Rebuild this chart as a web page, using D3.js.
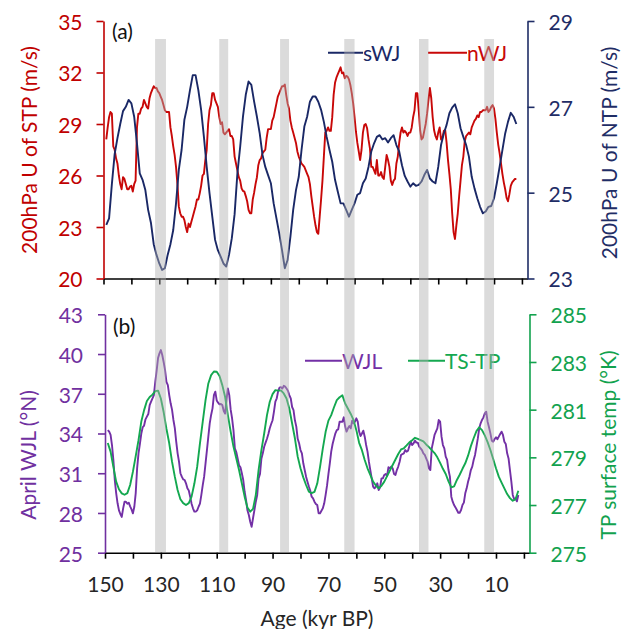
<!DOCTYPE html>
<html>
<head>
<meta charset="utf-8">
<script src="https://cdn.jsdelivr.net/npm/d3@7"></script>
<style>
  html, body { margin: 0; padding: 0; background: #fff; }
  svg { display: block; font-family: Lato, "Open Sans", sans-serif; }
</style>
</head>
<body>
<svg id="chart" width="628" height="629"></svg>
<script>
// ---- data (kyr BP, oldest first) ----
// yearly-kyr ages for the smoother series
const ages = [149,148,147,146,145,144,143,142,141,140,139,138,137,136,135,134,133,132,131,130,
  129,128,127,126,125,124,123,122,121,120,119,118,117,116,115,114,113,112,111,110,
  109,108,107,106,105,104,103,102,101,100,99,98,97,96,95,94,93,92,91,90,
  89,88,87,86,85,84,83,82,81,80,79,78,77,76,75,74,73,72,71,70,
  69,68,67,66,65,64,63,62,61,60,59,58,57,56,55,54,53,52,51,50,
  49,48,47,46,45,44,43,42,41,40,39,38,37,36,35,34,33,32,31,30,
  29,28,27,26,25,24,23,22,21,20,19,18,17,16,15,14,13,12,11,10,
  9,8,7,6,5,4,3,2];

// half-kyr ages for the noisier series
const agesHalf = [
  149,148.5,148,147.5,147,146.5,146,145.5,145,144.5,
  144,143.5,143,142.5,142,141.5,141,140.5,140,139.5,
  139,138.5,138,137.5,137,136.5,136,135.5,135,134.5,
  134,133.5,133,132.5,132,131.5,131,130.5,130,129.5,
  129,128.5,128,127.5,127,126.5,126,125.5,125,124.5,
  124,123.5,123,122.5,122,121.5,121,120.5,120,119.5,
  119,118.5,118,117.5,117,116.5,116,115.5,115,114.5,
  114,113.5,113,112.5,112,111.5,111,110.5,110,109.5,
  109,108.5,108,107.5,107,106.5,106,105.5,105,104.5,
  104,103.5,103,102.5,102,101.5,101,100.5,100,99.5,
  99,98.5,98,97.5,97,96.5,96,95.5,95,94.5,
  94,93.5,93,92.5,92,91.5,91,90.5,90,89.5,
  89,88.5,88,87.5,87,86.5,86,85.5,85,84.5,
  84,83.5,83,82.5,82,81.5,81,80.5,80,79.5,
  79,78.5,78,77.5,77,76.5,76,75.5,75,74.5,
  74,73.5,73,72.5,72,71.5,71,70.5,70,69.5,
  69,68.5,68,67.5,67,66.5,66,65.5,65,64.5,
  64,63.5,63,62.5,62,61.5,61,60.5,60,59.5,
  59,58.5,58,57.5,57,56.5,56,55.5,55,54.5,
  54,53.5,53,52.5,52,51.5,51,50.5,50,49.5,
  49,48.5,48,47.5,47,46.5,46,45.5,45,44.5,
  44,43.5,43,42.5,42,41.5,41,40.5,40,39.5,
  39,38.5,38,37.5,37,36.5,36,35.5,35,34.5,
  34,33.5,33,32.5,32,31.5,31,30.5,30,29.5,
  29,28.5,28,27.5,27,26.5,26,25.5,25,24.5,
  24,23.5,23,22.5,22,21.5,21,20.5,20,19.5,
  19,18.5,18,17.5,17,16.5,16,15.5,15,14.5,
  14,13.5,13,12.5,12,11.5,11,10.5,10,9.5,
  9,8.5,8,7.5,7,6.5,6,5.5,5,4.5,
  4,3.5,3,2.5,2];

// 200 hPa zonal wind, northern jet over the subtropical plateau (m/s), on agesHalf
const nWJ = [
  28.1,28.8,29.4,29.7,29.6,27.7,27.5,27.0,26.7,26.0,
  25.5,25.2,25.9,25.8,25.5,25.2,25.2,25.35,25.4,25.06,
  25.5,25.7,28.8,29.6,29.6,29.9,30.0,30.4,30.2,30.0,
  29.9,30.5,30.8,31.0,31.2,31.1,31.1,30.9,30.8,30.6,
  30.4,30.1,29.8,29.7,29.7,29.7,28.8,28.3,27.7,27.2,
  26.5,25.5,24.2,23.8,23.6,23.6,23.4,23.0,22.7,23.2,
  23.0,23.3,23.6,23.9,24.2,24.6,24.6,24.96,25.4,26.0,
  26.1,26.9,27.5,29.0,29.8,30.1,30.8,30.8,30.4,30.2,
  30.0,29.4,29.0,29.1,28.5,28.4,28.5,28.6,28.7,28.3,
  28.3,28.1,27.1,26.7,26.3,25.9,25.7,25.25,25.1,25.06,
  24.8,24.5,24.0,23.8,23.8,24.6,25.0,25.5,25.9,26.6,
  26.9,27.0,27.3,27.4,27.5,28.2,28.7,28.7,28.7,29.2,
  29.4,29.8,30.2,30.6,30.8,31.0,31.2,31.2,31.3,30.7,
  30.2,29.9,29.2,28.8,28.5,28.2,27.9,27.4,27.1,26.9,
  26.7,26.6,26.5,26.3,26.1,25.9,25.5,24.8,24.2,23.6,
  23.1,22.7,22.6,23.6,24.6,25.7,27.1,28.5,28.6,28.8,
  28.6,28.6,29.4,30.7,31.4,31.7,31.9,32.1,32.3,31.95,
  32.0,31.66,31.8,31.76,31.6,31.27,30.8,30.2,29.4,28.55,
  27.9,27.4,26.9,27.5,28.5,28.94,29.0,28.75,28.1,27.6,
  26.5,26.5,26.3,26.1,26.9,26.0,26.0,26.2,25.9,25.8,
  26.5,27.2,26.9,26.5,25.7,25.45,25.7,25.8,26.7,27.1,
  27.9,28.5,28.8,28.5,28.6,28.5,28.3,28.5,28.5,28.8,
  29.4,29.8,30.8,30.8,29.8,28.65,28.1,28.2,28.6,29.0,
  29.6,30.4,31.1,30.5,29.4,28.65,28.3,28.1,28.5,28.8,
  28.1,28.2,28.6,28.65,27.9,26.9,26.1,25.2,23.8,22.7,
  22.3,23.1,23.8,24.8,25.7,26.6,27.1,28.0,28.3,28.4,
  28.5,28.4,28.8,29.0,29.2,29.3,29.5,29.4,29.7,29.7,
  29.8,29.8,29.8,30.0,29.7,29.8,30.0,30.1,29.9,29.3,
  28.5,27.8,27.3,26.7,26.1,25.6,25.2,24.7,24.5,24.9,
  25.4,25.6,25.7,25.8,25.8];

// 200 hPa zonal wind, southern jet north of the plateau (m/s), on ages
const sWJ = [24.25,24.4,25.2,25.9,26.27,26.6,26.9,27.0,27.16,27.08,26.77,26.15,25.45,25.3,25.06,24.6,24.3,23.8,23.55,23.35,
  23.2,23.24,23.55,23.8,24.13,24.75,25.53,26.0,26.7,27.0,27.39,27.74,27.74,27.39,26.93,26.3,25.6,24.99,24.44,23.9,
  23.66,23.51,23.35,23.28,23.55,23.94,24.5,25.45,26.07,26.77,27.28,27.59,27.51,27.12,26.77,26.38,25.88,25.6,25.41,25.22,
  24.75,24.4,24.05,23.66,23.24,23.43,23.97,24.6,25.06,25.37,26.0,26.54,26.77,27.12,27.24,27.24,27.12,26.93,26.65,26.3,
  26.0,25.72,25.3,25.02,24.75,24.75,24.6,24.44,24.6,24.75,24.95,24.99,25.22,25.33,25.6,25.96,26.15,26.3,26.34,26.24,
  26.27,26.17,26.27,26.34,26.11,25.96,25.64,25.39,25.26,25.14,25.22,25.16,25.18,25.26,25.41,25.53,25.33,25.26,25.22,25.6,
  26.11,26.38,26.58,26.85,26.98,27.06,26.85,26.5,26.3,26.11,25.84,25.37,25.1,24.87,24.67,24.52,24.56,24.67,24.69,24.87,
  25.22,25.6,25.99,26.38,26.65,26.86,26.77,26.6];

// April westerly jet latitude (°N), on agesHalf
const WJL = [
  34.26,34.14,33.9,33.13,32.0,30.49,29.5,28.73,28.2,27.92,
  27.7,28.35,28.85,28.85,28.7,28.78,28.5,28.27,27.97,28.47,
  29.5,31.37,32.5,33.21,34.0,34.47,34.6,35.07,35.27,35.47,
  36.15,36.4,36.66,36.9,37.9,38.74,39.7,40.05,40.3,39.93,
  39.4,38.8,37.9,37.66,36.9,36.28,35.8,35.02,34.4,33.38,
  32.5,31.87,31.0,30.74,30.54,30.49,30.24,29.86,29.7,29.23,
  28.7,28.35,28.1,28.1,28.2,28.47,28.7,29.36,30.1,30.74,
  31.75,32.75,33.76,34.77,35.4,35.9,36.9,37.16,36.5,36.33,
  36.2,36.23,36.15,35.72,35.5,36.53,37.4,36.9,35.8,35.15,
  34.26,32.88,32.6,32.12,31.6,31.45,31.0,30.49,29.6,28.98,
  28.2,27.85,27.34,26.96,27.6,28.22,28.85,29.36,30.6,30.94,
  32.1,32.5,33.0,33.31,33.6,33.96,34.4,34.72,35.0,35.65,
  36.4,36.66,37.2,37.46,37.5,37.39,37.6,37.54,37.4,37.23,
  36.9,36.66,36.0,35.77,35.0,34.52,33.6,33.26,32.75,32.5,
  31.75,31.24,30.74,30.36,30.0,29.68,29.23,29.1,28.85,28.68,
  28.6,27.97,27.97,28.17,28.35,28.73,29.36,30.06,30.94,31.75,
  32.63,33.21,33.63,34.01,34.26,34.31,34.89,34.89,34.89,35.22,
  34.52,34.14,34.39,34.57,34.39,34.97,34.77,34.89,35.15,34.89,
  34.14,33.81,34.0,34.21,33.76,33.13,32.63,31.87,31.24,30.61,
  29.99,29.86,29.99,30.24,29.73,29.93,30.61,30.61,30.87,30.94,
  30.79,31.45,31.37,31.5,31.37,30.94,30.87,31.24,31.5,31.87,
  32.38,32.45,32.5,32.75,32.63,32.7,33.06,33.38,33.13,33.26,
  33.46,33.31,33.31,33.0,32.88,32.75,32.5,32.38,32.13,31.87,
  31.37,31.24,32.88,33.38,33.89,34.14,34.39,35.02,34.89,33.76,
  33.13,32.88,32.25,32.0,31.24,30.74,29.23,28.85,28.6,28.42,
  28.22,28.02,28.02,28.22,28.6,28.78,29.48,29.86,30.36,30.74,
  31.24,31.5,32.0,32.38,33.0,33.63,34.39,34.77,35.02,35.22,
  35.52,35.65,34.89,34.47,34.01,33.46,33.38,33.58,33.71,33.56,
  33.76,33.96,34.14,33.89,33.38,33.21,32.5,32.12,31.24,30.36,
  29.36,29.03,29.1,28.88,29.36];

// Tibetan Plateau surface temperature (°K), on ages
const TSTP = [279.6,279.24,278.6,277.98,277.66,277.49,277.43,277.5,277.84,278.4,279.05,279.72,280.5,280.98,281.36,281.53,281.63,281.78,281.8,281.47,
  280.9,280.2,279.59,278.82,278.19,277.63,277.24,277.08,277.0,277.08,277.35,277.9,278.6,279.59,280.5,281.4,282.1,282.45,282.6,282.59,
  282.41,282.03,281.54,280.77,280.08,279.45,278.96,278.47,277.91,277.35,276.9,276.72,276.84,277.42,278.47,279.3,280.0,280.77,281.33,281.65,
  281.82,281.8,281.81,281.68,281.47,281.05,280.42,279.8,279.03,278.54,278.16,277.84,277.56,277.5,277.55,277.9,278.6,279.38,280.07,280.54,
  280.77,281.1,281.4,281.52,281.6,281.26,281.04,280.82,280.56,280.14,279.61,279.3,278.89,278.54,278.26,277.98,277.82,277.7,277.81,277.98,
  278.21,278.44,278.68,278.91,279.14,279.33,279.38,279.5,279.63,279.72,279.82,279.77,279.72,279.67,279.54,279.43,279.3,279.18,279.0,278.77,
  278.52,278.3,277.99,277.74,277.78,278.05,278.27,278.52,278.75,279.07,279.47,279.8,280.1,280.26,280.14,279.92,279.64,279.31,278.93,278.54,
  278.19,277.94,277.7,277.46,277.29,277.18,277.24,277.6];

// shaded intervals (kyr BP)
const bandFrom = [131.5, 108.5, 86.7, 63.7, 36.9, 13.5];
const bandTo   = [127.6, 105.3, 83.5, 60.0, 33.5, 10.0];

// tick values
const ageTicks = [150,140,130,120,110,100,90,80,70,60,50,40,30,20,10,0];
const ageTickLabels = [150,130,110,90,70,50,30,10];
const stpTicks = [20,23,26,29,32,35];
const ntpTicks = [23,25,27,29];
const wjlTicks = [25,28,31,34,37,40,43];
const tsTicks = [275,277,279,281,283,285];

// ---- styling ----
const C = {
  red: "#c80808", redText: "#c00000",
  navy: "#1a2866", navyText: "#1f2d66",
  purple: "#7330a6", purpleText: "#7030a0",
  green: "#14a850", greenText: "#12a24e",
  ink: "#262626"
};
const FS = 21;
const LW = 1.9;

const svg = d3.select("#chart");

const pA = { left: 103.5, right: 527.5, top: 21, bottom: 278.5 };
const pB = { left: 105, right: 529.5, top: 314.3, bottom: 552.7 };

const xA = d3.scaleLinear().domain([150, -2]).range([pA.left, pA.right]);
const xB = d3.scaleLinear().domain([150, -2]).range([pB.left, pB.right]);
const yN = d3.scaleLinear().domain([20, 35]).range([pA.bottom, pA.top]);
const yS = d3.scaleLinear().domain([23, 29]).range([pA.bottom, pA.top]);
const yW = d3.scaleLinear().domain([25, 43]).range([pB.bottom, pB.top]);
const yT = d3.scaleLinear().domain([275, 285]).range([pB.bottom, pB.top]);
const intFmt = d3.format("d");

function styleAxis(g, color, textColor) {
  g.select(".domain").attr("stroke", color).attr("stroke-width", 1.6);
  g.selectAll(".tick line").attr("stroke", color).attr("stroke-width", 1.6);
  g.selectAll(".tick text").attr("fill", textColor).attr("font-size", FS)
    .attr("font-family", "Lato, 'Open Sans', sans-serif");
}

// ---- panel (a) axes ----
svg.append("g").attr("transform", `translate(0,${pA.bottom})`)
  .call(d3.axisBottom(xA).tickValues(ageTicks).tickSize(6).tickSizeOuter(0).tickFormat(() => ""))
  .call(g => styleAxis(g, "#000", C.ink));

svg.append("g").attr("transform", `translate(${pA.left},0)`)
  .call(d3.axisLeft(yN).tickValues(stpTicks).tickSize(7).tickSizeOuter(0).tickPadding(14).tickFormat(intFmt))
  .call(g => styleAxis(g, C.redText, C.redText))
  .call(g => g.selectAll(".tick text").attr("dy", "0.4em"));

svg.append("g").attr("transform", `translate(${pA.right},0)`)
  .call(d3.axisRight(yS).tickValues(ntpTicks).tickSize(7).tickSizeOuter(0).tickPadding(14).tickFormat(intFmt))
  .call(g => styleAxis(g, C.navyText, C.navyText))
  .call(g => g.selectAll(".tick text").attr("dy", "0.4em"));

// ---- panel (b) axes ----
svg.append("g").attr("transform", `translate(0,${pB.bottom})`)
  .call(d3.axisBottom(xB).tickValues(ageTicks).tickSize(6).tickSizeOuter(0).tickPadding(18)
    .tickFormat(d => ageTickLabels.includes(d) ? d : ""))
  .call(g => styleAxis(g, "#000", C.ink));

svg.append("g").attr("transform", `translate(${pB.left},0)`)
  .call(d3.axisLeft(yW).tickValues(wjlTicks).tickSize(7).tickSizeOuter(0).tickPadding(15).tickFormat(intFmt))
  .call(g => styleAxis(g, C.purpleText, C.purpleText))
  .call(g => g.selectAll(".tick text").attr("dy", "0.4em"));

svg.append("g").attr("transform", `translate(${pB.right},0)`)
  .call(d3.axisRight(yT).tickValues(tsTicks).tickSize(7).tickSizeOuter(0).tickPadding(14).tickFormat(intFmt))
  .call(g => styleAxis(g, C.greenText, C.greenText))
  .call(g => g.selectAll(".tick text").attr("dy", "0.4em"));

// ---- series ----
function drawSeries(xs, ys, xsData, values, color) {
  const pts = xsData.map((a, i) => [a, values[i]]);
  svg.append("path")
    .datum(pts)
    .attr("fill", "none")
    .attr("stroke", color)
    .attr("stroke-width", LW)
    .attr("stroke-linejoin", "round")
    .attr("d", d3.line().x(d => xs(d[0])).y(d => ys(d[1])));
}
drawSeries(xA, yN, agesHalf, nWJ, C.red);
drawSeries(xA, yS, ages, sWJ, C.navy);
drawSeries(xB, yW, agesHalf, WJL, C.purple);
drawSeries(xB, yT, ages, TSTP, C.green);

// ---- legends ----
function legendItem(x0, x1, y, label, color) {
  svg.append("line").attr("x1", x0).attr("x2", x1).attr("y1", y).attr("y2", y)
    .attr("stroke", color).attr("stroke-width", LW);
  svg.append("text").attr("x", x1).attr("y", y + 8.5).attr("fill", color)
    .attr("font-size", FS).text(label);
}
legendItem(328, 363, 52.7, "sWJ", C.navy);
legendItem(428, 467, 52.7, "nWJ", C.red);
legendItem(305, 342, 360.7, "WJL", C.purple);
legendItem(408, 445, 360.7, "TS-TP", C.green);

// ---- panel labels ----
svg.append("text").attr("x", 112).attr("y", 38.5).attr("fill", "#111").attr("font-size", FS).text("(a)");
svg.append("text").attr("x", 113).attr("y", 333.5).attr("fill", "#111").attr("font-size", FS).text("(b)");

// ---- axis titles ----
function vTitle(cx, cy, label, color) {
  svg.append("text")
    .attr("transform", `translate(${cx},${cy}) rotate(-90)`)
    .attr("text-anchor", "middle")
    .attr("dominant-baseline", "central")
    .attr("fill", color).attr("font-size", FS)
    .text(label);
}
vTitle(28.5, 150, "200hPa U of STP (m/s)", C.redText);
vTitle(608, 153, "200hPa U of NTP (m/s)", C.navyText);
vTitle(27.5, 455, "April WJL (°N)", C.purpleText);
vTitle(607, 445, "TP surface temp (°K)", C.greenText);

svg.append("text").attr("x", 317).attr("y", 626).attr("text-anchor", "middle")
  .attr("fill", C.ink).attr("font-size", FS).text("Age (kyr BP)");

// ---- shaded intervals, laid over the curves ----
svg.append("g").selectAll("rect")
  .data(bandFrom.map((f, i) => [f, bandTo[i]]))
  .join("rect")
  .attr("x", d => xA(d[0]))
  .attr("width", d => xA(d[1]) - xA(d[0]))
  .attr("y", 39)
  .attr("height", 552 - 39)
  .attr("fill", "#b0b0b0")
  .attr("fill-opacity", 0.45);
</script>
</body>
</html>
